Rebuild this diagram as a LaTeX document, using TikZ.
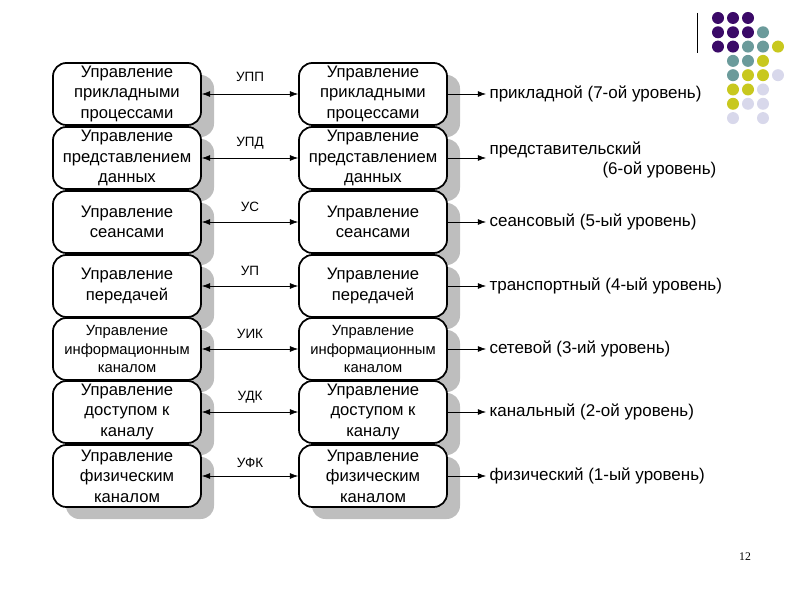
\documentclass[tikz,border=0pt]{standalone}
\usepackage{fontspec}
\setmainfont{Liberation Sans}
\newfontfamily\pagefont{Liberation Serif}
\usepackage{xcolor}
\usetikzlibrary{arrows.meta,positioning,calc,shadows}

\definecolor{dotpurple}{RGB}{59,10,104}
\definecolor{dotteal}{RGB}{107,155,155}
\definecolor{dotyellow}{RGB}{200,200,30}
\definecolor{dotlav}{RGB}{216,216,235}
\definecolor{shadowgray}{RGB}{190,190,190}

\begin{document}
\begin{tikzpicture}[
    x=0.03cm, y=-0.03cm,
    ctrl/.style={rectangle, rounded corners=0.4cm, draw, line width=1.5pt, fill=white,
        minimum width=4.44cm, minimum height=1.86cm, align=center, inner sep=1pt,
        font=\fontsize{14.2}{17.5}\selectfont,
        drop shadow={shadow xshift=0.39cm, shadow yshift=-0.36cm, fill=shadowgray, opacity=1}},
    smallctrl/.style={ctrl, font=\fontsize{12.6}{15.5}\selectfont},
    level/.style={anchor=west, inner sep=0.1cm, align=left, font=\fontsize{14.5}{17}\selectfont},
    proto/.style={font=\fontsize{11.5}{13}\selectfont},
    biarrow/.style={{Latex[length=7pt,width=5pt]}-{Latex[length=7pt,width=5pt]}, line width=0.5pt},
    arrow/.style={-{Latex[length=7pt,width=5pt]}, line width=0.5pt}
]
\useasboundingbox (0,0) rectangle (800,600);

% Left column
\node[ctrl] (lctrl1) at (127,94) {Управление\\прикладными\\процессами};
\node[ctrl] (lctrl2) at (127,158) {Управление\\представлением\\данных};
\node[ctrl] (lctrl3) at (127,222) {Управление\\сеансами};
\node[ctrl] (lctrl4) at (127,286) {Управление\\передачей};
\node[smallctrl] (lctrl5) at (127,349) {Управление\\информационным\\каналом};
\node[ctrl] (lctrl6) at (127,412) {Управление\\доступом к\\каналу};
\node[ctrl] (lctrl7) at (127,476) {Управление\\физическим\\каналом};

% Right column
\node[ctrl] (rctrl1) at (373,94) {Управление\\прикладными\\процессами};
\node[ctrl] (rctrl2) at (373,158) {Управление\\представлением\\данных};
\node[ctrl] (rctrl3) at (373,222) {Управление\\сеансами};
\node[ctrl] (rctrl4) at (373,286) {Управление\\передачей};
\node[smallctrl] (rctrl5) at (373,349) {Управление\\информационным\\каналом};
\node[ctrl] (rctrl6) at (373,412) {Управление\\доступом к\\каналу};
\node[ctrl] (rctrl7) at (373,476) {Управление\\физическим\\каналом};

% Protocols
\draw[biarrow] (lctrl1) -- (rctrl1) node[proto, midway, yshift=0.5cm] {УПП};
\draw[biarrow] (lctrl2) -- (rctrl2) node[proto, midway, yshift=0.45cm] {УПД};
\draw[biarrow] (lctrl3) -- (rctrl3) node[proto, midway, yshift=0.45cm] {УС};
\draw[biarrow] (lctrl4) -- (rctrl4) node[proto, midway, yshift=0.45cm] {УП};
\draw[biarrow] (lctrl5) -- (rctrl5) node[proto, midway, yshift=0.45cm] {УИК};
\draw[biarrow] (lctrl6) -- (rctrl6) node[proto, midway, yshift=0.45cm] {УДК};
\draw[biarrow] (lctrl7) -- (rctrl7) node[proto, midway, yshift=0.4cm] {УФК};

% Levels
\node[level] (lvl1) at (486,94) {прикладной (7-ой уровень)};
\node[level] (lvl2) at (486,160) {представительский\\\hspace*{3.39cm}(6-ой уровень)};
\node[level] (lvl3) at (486,222) {сеансовый (5-ый уровень)};
\node[level] (lvl4) at (486,286) {транспортный (4-ый уровень)};
\node[level] (lvl5) at (486,349) {сетевой (3-ий уровень)};
\node[level] (lvl6) at (486,412) {канальный (2-ой уровень)};
\node[level] (lvl7) at (486,476) {физический (1-ый уровень)};

\draw[arrow] (rctrl1) -- (lvl1);
\draw[arrow] (rctrl2) -- (rctrl2 -| lvl2.west);
\draw[arrow] (rctrl3) -- (lvl3);
\draw[arrow] (rctrl4) -- (lvl4);
\draw[arrow] (rctrl5) -- (lvl5);
\draw[arrow] (rctrl6) -- (lvl6);
\draw[arrow] (rctrl7) -- (lvl7);

% Decoration
\draw[line width=0.7pt] (697,13) -- (697,53);
\foreach \c/\r/\col in {0/0/dotpurple,1/0/dotpurple,2/0/dotpurple,
    0/1/dotpurple,1/1/dotpurple,2/1/dotpurple,3/1/dotteal,
    0/2/dotpurple,1/2/dotpurple,2/2/dotteal,3/2/dotteal,4/2/dotyellow,
    1/3/dotteal,2/3/dotteal,3/3/dotyellow,
    1/4/dotteal,2/4/dotyellow,3/4/dotyellow,4/4/dotlav,
    1/5/dotyellow,2/5/dotyellow,3/5/dotlav,
    1/6/dotyellow,2/6/dotlav,3/6/dotlav,
    1/7/dotlav,3/7/dotlav}
  \fill[\col] (718+15*\c,18+14.3*\r) circle (0.18cm);

% Page number
\node[font=\pagefont\fontsize{10}{12}\selectfont] (pagenum) at (745,557) {12};

\end{tikzpicture}
\end{document}
